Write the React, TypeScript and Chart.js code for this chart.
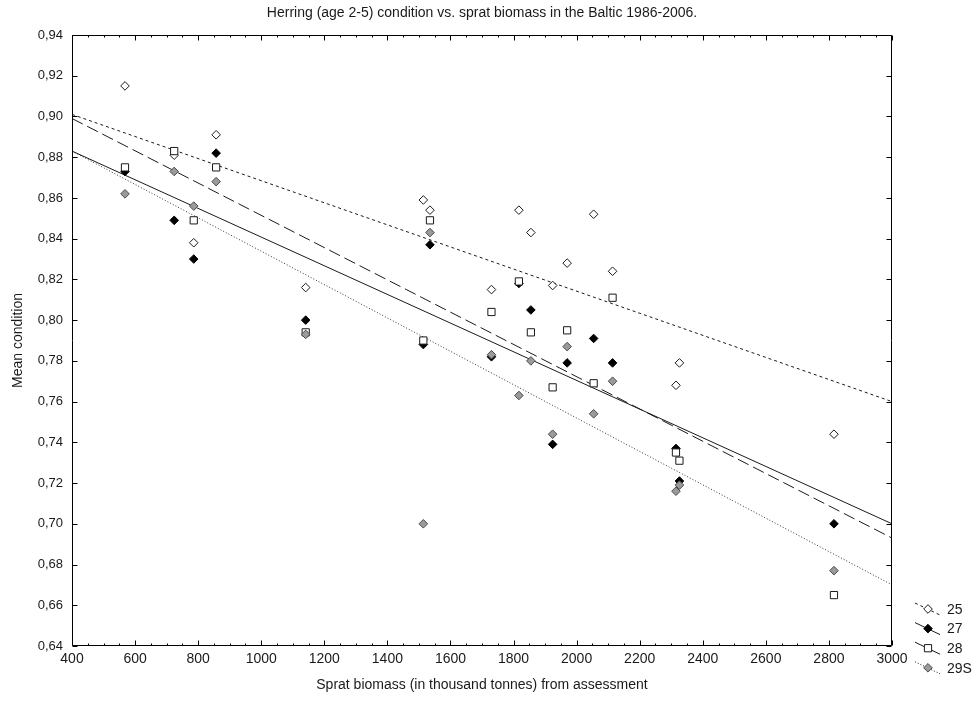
import { useEffect, useRef } from "react";
import { Chart, registerables } from "chart.js";

Chart.register(...registerables);

// Sprat biomass (thousand tonnes) per assessment year, shared by all sub-divisions
const biomass = [568, 724, 786, 857, 1141, 1514, 1535, 1730, 1817, 1855, 1924, 1970, 2054, 2114, 2315, 2326, 2816];

// Mean herring condition per sub-division
const cond25 = [0.915, 0.881, 0.838, 0.891, 0.816, 0.859, 0.854, 0.815, 0.854, 0.843, 0.817, 0.828, 0.852, 0.824, 0.768, 0.779, 0.744];
const cond27 = [0.873, 0.849, 0.830, 0.882, 0.800, 0.788, 0.837, 0.782, 0.818, 0.805, 0.739, 0.779, 0.791, 0.779, 0.737, 0.721, 0.700];
const cond28 = [0.875, 0.883, 0.849, 0.875, 0.794, 0.790, 0.849, 0.804, 0.819, 0.794, 0.767, 0.795, 0.769, 0.811, 0.735, 0.731, 0.665];
const cond29S = [0.862, 0.873, 0.856, 0.868, 0.793, 0.700, 0.843, 0.783, 0.763, 0.780, 0.744, 0.787, 0.754, 0.770, 0.716, 0.719, 0.677];

// Linear fits, evaluated at the ends of the x range
const fitX = [400, 3000];
const fit25 = [0.901, 0.760];
const fit27 = [0.883, 0.700];
const fit28 = [0.899, 0.693];
const fit29S = [0.883, 0.670];

const seriesLabels = ["25", "27", "28", "29S"];

const FONT = '"Liberation Sans", Arial, sans-serif';
const INK = "#1a1a1a";
const GRAY_FILL = "#9a9a9a";
const GRAY_EDGE = "#4a4a4a";

const dashes: Record<string, number[]> = {
  "25": [3, 3],
  "27": [],
  "28": [12, 5],
  "29S": [1, 2],
};

const pts = (ys: number[]) => biomass.map((x, i) => ({ x, y: ys[i] }));
const fit = (ys: number[]) => fitX.map((x, i) => ({ x, y: ys[i] }));

function drawMarker(ctx: CanvasRenderingContext2D, key: string, x: number, y: number) {
  ctx.save();
  ctx.lineWidth = 1;
  ctx.beginPath();
  if (key === "28") {
    const h = 3.6;
    ctx.rect(x - h, y - h, 2 * h, 2 * h);
    ctx.fillStyle = "#fff";
    ctx.strokeStyle = INK;
  } else {
    const r = 4.3;
    ctx.moveTo(x, y - r);
    ctx.lineTo(x + r, y);
    ctx.lineTo(x, y + r);
    ctx.lineTo(x - r, y);
    ctx.closePath();
    if (key === "25") {
      ctx.fillStyle = "#fff";
      ctx.strokeStyle = INK;
    } else if (key === "27") {
      ctx.fillStyle = "#000";
      ctx.strokeStyle = "#000";
    } else {
      ctx.fillStyle = GRAY_FILL;
      ctx.strokeStyle = GRAY_EDGE;
    }
  }
  ctx.fill();
  ctx.stroke();
  ctx.restore();
}

// Box frame with inward tick marks on all four sides
const framePlugin = {
  id: "frame",
  afterDraw(chart: any) {
    const { ctx, chartArea: a, scales } = chart;
    const xs = scales.x;
    const ys = scales.y;
    const L = Math.round(a.left) + 0.5;
    const R = Math.round(a.right) - 0.5;
    const T = Math.round(a.top) + 0.5;
    const B = Math.round(a.bottom) - 0.5;
    ctx.save();
    ctx.strokeStyle = "#000";
    ctx.lineWidth = 1;
    ctx.setLineDash([]);
    ctx.beginPath();
    ctx.rect(L, T, R - L, B - T);
    ctx.stroke();
    ctx.beginPath();
    for (let v = 400; v <= 3000; v += 50) {
      const px = Math.round(xs.getPixelForValue(v)) + 0.5;
      const len = v % 200 === 0 ? 5 : 2;
      ctx.moveTo(px, B);
      ctx.lineTo(px, B - len);
      ctx.moveTo(px, T);
      ctx.lineTo(px, T + len);
    }
    for (let i = 0; i <= 15; i++) {
      const py = Math.round(ys.getPixelForValue(0.64 + i * 0.02)) + 0.5;
      ctx.moveTo(L, py);
      ctx.lineTo(L + 5, py);
      ctx.moveTo(R, py);
      ctx.lineTo(R - 5, py);
    }
    ctx.stroke();
    ctx.restore();
  },
};

// Legend outside the lower right corner: slanted line sample, marker, label
const legendPlugin = {
  id: "sideLegend",
  afterDraw(chart: any) {
    const { ctx, chartArea: a } = chart;
    const cx = a.right + 36;
    const y0 = a.bottom - 37;
    ctx.save();
    seriesLabels.forEach((key, i) => {
      const cy = y0 + i * 19.6;
      ctx.strokeStyle = INK;
      ctx.lineWidth = 1;
      ctx.setLineDash(dashes[key]);
      ctx.beginPath();
      ctx.moveTo(cx - 13, cy - 6);
      ctx.lineTo(cx + 12, cy + 6);
      ctx.stroke();
      ctx.setLineDash([]);
      drawMarker(ctx, key, cx, cy);
      ctx.fillStyle = INK;
      ctx.font = `14px ${FONT}`;
      ctx.textAlign = "left";
      ctx.textBaseline = "middle";
      ctx.fillText(key, cx + 19, cy + 1);
    });
    ctx.restore();
  },
};

export default function App() {
  const ref = useRef<HTMLCanvasElement | null>(null);

  useEffect(() => {
    if (!ref.current) return;
    const pointSet = (key: string, ys: number[]) => ({
      type: "scatter" as const,
      label: key,
      data: pts(ys),
      showLine: false,
      pointStyle: key === "28" ? "rect" : "rectRot",
      pointRadius: key === "28" ? 5.1 : 4.3,
      pointBorderWidth: 1,
      pointBackgroundColor: key === "25" || key === "28" ? "#fff" : key === "27" ? "#000" : GRAY_FILL,
      pointBorderColor: key === "29S" ? GRAY_EDGE : key === "27" ? "#000" : INK,
    });
    const lineSet = (key: string, ys: number[]) => ({
      type: "line" as const,
      label: "fit " + key,
      data: fit(ys),
      borderColor: key === "29S" ? "#333" : INK,
      borderWidth: 1,
      borderDash: dashes[key],
      pointRadius: 0,
      fill: false,
      tension: 0,
    });

    const chart = new Chart(ref.current, {
      type: "scatter",
      data: {
        datasets: [
          pointSet("29S", cond29S),
          pointSet("28", cond28),
          pointSet("27", cond27),
          pointSet("25", cond25),
          lineSet("25", fit25),
          lineSet("27", fit27),
          lineSet("28", fit28),
          lineSet("29S", fit29S),
        ] as any,
      },
      options: {
        animation: false,
        responsive: false,
        events: [],
        layout: { padding: { left: 0, right: 85, top: 0, bottom: 0 } },
        plugins: {
          legend: { display: false },
          tooltip: { enabled: false },
          title: {
            display: true,
            fullSize: false,
            text: "Herring (age 2-5) condition vs. sprat biomass in the Baltic 1986-2006.",
            color: INK,
            font: { family: FONT, size: 14, weight: "normal" },
            padding: { top: 5, bottom: 13.2 },
          },
        },
        scales: {
          x: {
            type: "linear",
            min: 400,
            max: 3000,
            grid: { display: false, drawTicks: false },
            border: { display: false },
            afterFit: (s: any) => {
              s.height = 56;
            },
            ticks: {
              stepSize: 200,
              autoSkip: false,
              maxRotation: 0,
              padding: 5,
              color: INK,
              font: { family: FONT, size: 14 },
              callback: (v: any) => String(v),
            },
            title: {
              display: true,
              text: "Sprat biomass (in thousand tonnes) from assessment",
              color: INK,
              font: { family: FONT, size: 14 },
              padding: { top: 0, bottom: 8 },
            },
          },
          y: {
            type: "linear",
            min: 0.64,
            max: 0.94,
            grid: { display: false, drawTicks: false },
            border: { display: false },
            afterFit: (s: any) => {
              s.width = 72;
            },
            ticks: {
              stepSize: 0.02,
              autoSkip: false,
              padding: 9,
              color: INK,
              font: { family: FONT, size: 13 },
              callback: (v: any) => Number(v).toFixed(2).replace(".", ","),
            },
            title: {
              display: true,
              text: "Mean condition",
              color: INK,
              font: { family: FONT, size: 14 },
              padding: { top: 10, bottom: 0 },
            },
          },
        },
      },
      plugins: [framePlugin, legendPlugin],
    });
    return () => chart.destroy();
  }, []);

  return (
    <div style={{ position: "absolute", left: 0, top: 0, width: 977, height: 702, background: "#fff" }}>
      <canvas ref={ref} width={977} height={702} style={{ display: "block" }} />
    </div>
  );
}
